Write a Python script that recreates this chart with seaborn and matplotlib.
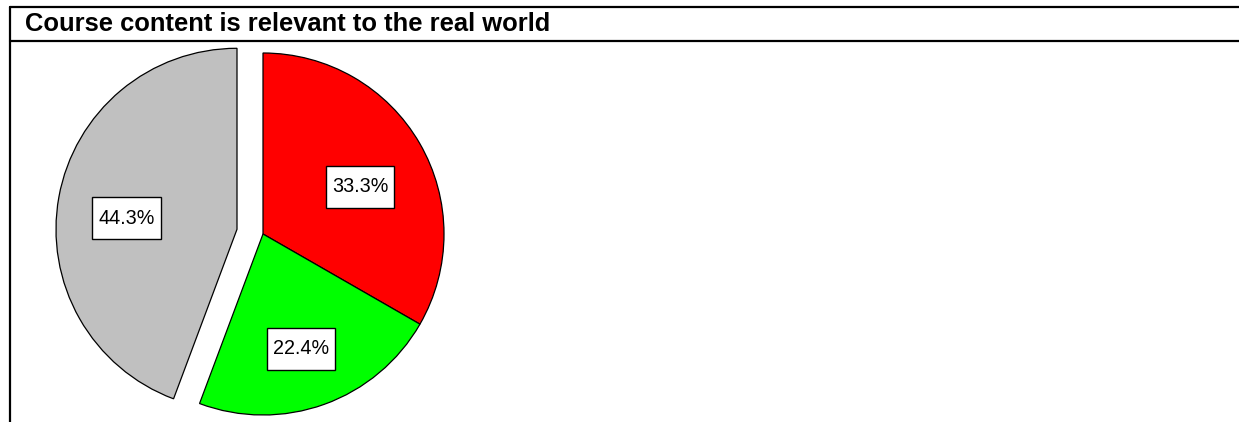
import matplotlib
matplotlib.use("Agg")
import matplotlib.pyplot as plt
from matplotlib.lines import Line2D
from matplotlib.path import Path
from matplotlib import transforms
import seaborn as sns

# Survey responses for one statement
title = "Course content is relevant to the real world"
categories = ["Agree", "Neutral", "Disagree"]
shares = [33.3, 22.4, 44.3]
colors = ["#FF0000", "#00FF00", "#C0C0C0"]
explode = [0.0, 0.0, 0.146]

sns.set_theme(style="white")
plt.rcParams["font.family"] = ["Liberation Sans", "DejaVu Sans"]

W, H, DPI = 1239, 422, 100
fig = plt.figure(figsize=(W / DPI, H / DPI), dpi=DPI)
fig.patch.set_facecolor("white")

# Title band framed by rules on top, below, and along the left edge
def hline(y_px, x0_px, x1_px):
    fig.add_artist(Line2D([x0_px / W, x1_px / W], [1 - y_px / H, 1 - y_px / H],
                          transform=fig.transFigure, color="black", lw=1.6))

hline(6.5, 9.5, W)
hline(40.5, 9.5, W)
fig.add_artist(Line2D([9.5 / W, 9.5 / W], [1 - 6.5 / H, 0],
                      transform=fig.transFigure, color="black", lw=1.6))

fig.text(25 / W, 1 - 24 / H, title, ha="left", va="center",
         fontsize=18.4, fontweight="bold", color="black")

# Pie placed with its centre at (263, 234) px and a 181 px radius
R = 181.0
cx, cy = 263.0, 234.0
lim = 1.3
size = 2 * lim * R
ax = fig.add_axes([(cx - size / 2) / W, (H - cy - size / 2) / H, size / W, size / H])

wedges, texts, autotexts = ax.pie(
    shares,
    colors=colors,
    explode=explode,
    startangle=90,
    counterclock=False,
    autopct="%1.1f%%",
    pctdistance=0.62,
    wedgeprops=dict(edgecolor="black", linewidth=0.9),
    textprops=dict(fontsize=14.2, color="black"),
)


# Label box: narrow side padding, taller top/bottom padding
def label_box(x0, y0, width, height, mutation_size):
    px = 0.30 * mutation_size
    py = 0.58 * mutation_size
    x0, y0 = x0 - px, y0 - py
    x1, y1 = x0 + width + 2 * px, y0 + height + 2 * py
    return Path([(x0, y0), (x1, y0), (x1, y1), (x0, y1), (x0, y0)], closed=True)


for t in autotexts:
    t.set_bbox(dict(boxstyle=label_box, facecolor="white",
                    edgecolor="black", linewidth=1.0))
    t.set_transform(transforms.offset_copy(t.get_transform(), fig=fig, x=0, y=-6.5,
                                           units="points"))

ax.set_xlim(-lim, lim)
ax.set_ylim(-lim, lim)
ax.set_aspect("equal")
ax.axis("off")

fig.savefig("out.png", dpi=DPI, facecolor="white")
